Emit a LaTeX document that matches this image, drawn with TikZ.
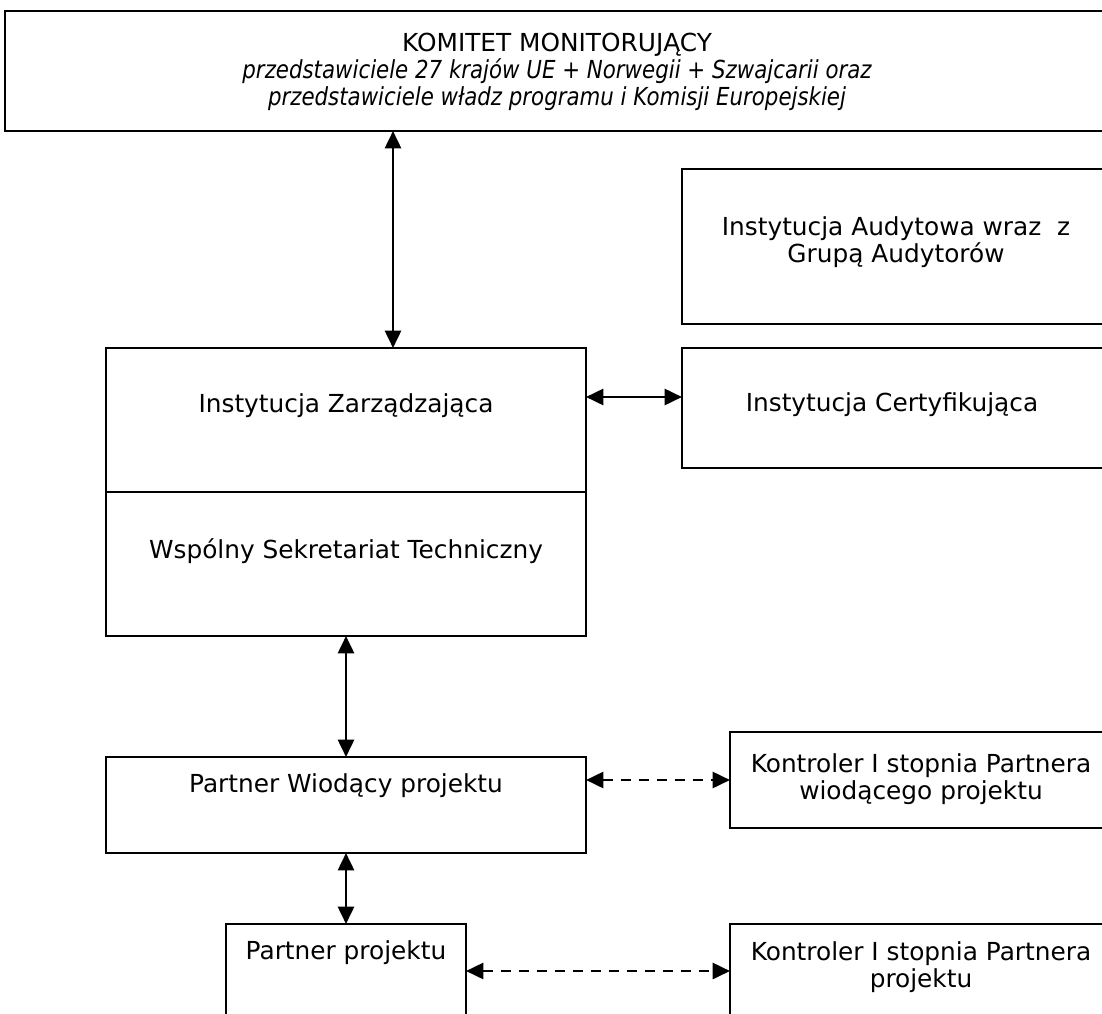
\documentclass[tikz,border=0pt]{standalone}
\usepackage{fontspec}
\setmainfont{DejaVu Sans}
\newfontfamily\narrowit{DejaVu Sans}[FakeStretch=0.86]
\usetikzlibrary{arrows.meta,calc}
\begin{document}
\begin{tikzpicture}[x=0.75pt,y=-0.75pt,
  box/.style={draw,line width=1.5pt,rectangle,inner sep=0pt,outer sep=0pt},
  lbl/.style={align=center,inner sep=0pt,font=\fontsize{18.6}{20.2}\selectfont},
  arr/.style={line width=2pt,{Triangle[length=13pt,width=12pt]}-{Triangle[length=13pt,width=12pt]}},
  darr/.style={arr,dash pattern=on 7.5pt off 6pt}]
\clip (0,0) rectangle (1102,1013);
\fill[white] (0,0) rectangle (1102,1013);
% boxes
\node[box,minimum width=828.75pt,minimum height=90pt] (km) at (557.5,71) {};
\node[box,minimum width=321pt,minimum height=116.25pt] (ia) at (896,246.5) {};
\node[box,minimum width=321pt,minimum height=90pt] (ic) at (896,408) {};
\node[box,minimum width=360pt,minimum height=108pt] (iz) at (346,420) {};
\node[box,minimum width=360pt,minimum height=108pt] (wst) at (346,564) {};
\node[box,minimum width=360pt,minimum height=72pt] (pw) at (346,805) {};
\node[box,minimum width=285pt,minimum height=72pt] (k1) at (920,780) {};
\node[box,minimum width=180pt,minimum height=87pt] (pp) at (346,982) {};
\node[box,minimum width=285pt,minimum height=87pt] (k2) at (920,982) {};
% texts
\node[lbl] (tkm) at (557,72) {KOMITET MONITORUJĄCY\\ {\narrowit\itshape przedstawiciele 27 krajów UE + Norwegii + Szwajcarii oraz}\\ {\narrowit\itshape przedstawiciele władz programu i Komisji Europejskiej}};
\node[lbl] (tia) at (896,242) {Instytucja Audytowa wraz\ \ z\\ Grupą Audytorów};
\node[lbl] (tic) at (892,405) {Instytucja Certyfikująca};
\node[lbl] (tiz) at (346,406) {Instytucja Zarządzająca};
\node[lbl] (twst) at (346,551) {Wspólny Sekretariat Techniczny};
\node[lbl] (tpw) at (346,786) {Partner Wiodący projektu};
\node[lbl] (tk1) at (921,779) {Kontroler I stopnia Partnera\\ wiodącego projektu};
\node[lbl] (tpp) at (346,953) {Partner projektu};
\node[lbl] (tk2) at (921,967) {Kontroler I stopnia Partnera\\ projektu};
% connectors
\coordinate (c1) at (393,0);
\coordinate (c2) at (0,397);
\coordinate (c3) at (0,971);
\draw[arr] (km.south -| c1) -- (iz.north -| c1);
\draw[arr] (iz.east |- c2) -- (ic.west |- c2);
\draw[arr] (wst.south) -- (pw.north);
\draw[darr] (pw.east |- k1.west) -- (k1.west);
\draw[arr] (pw.south) -- (pp.north);
\draw[darr] (pp.east |- c3) -- (k2.west |- c3);
\end{tikzpicture}
\end{document}
